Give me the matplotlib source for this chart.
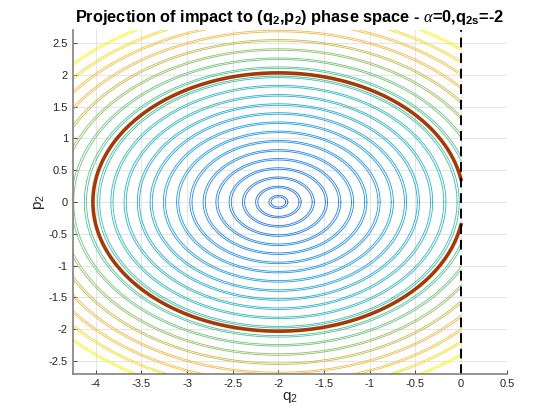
import numpy as np
import matplotlib.pyplot as plt
from matplotlib.colors import LinearSegmentedColormap

plt.rcParams['font.family'] = ['Liberation Sans', 'DejaVu Sans']
plt.rcParams['mathtext.fontset'] = 'custom'
plt.rcParams['mathtext.rm'] = 'Liberation Sans'
plt.rcParams['mathtext.it'] = 'Liberation Serif:italic'
plt.rcParams['mathtext.bf'] = 'Liberation Sans:bold'

# phase space data
q2s = -2.0
ring_radii = [0.08, 0.225, 0.37, 0.515, 0.66, 0.80, 0.945, 1.09, 1.235, 1.38, 1.52,
              1.665, 1.81, 1.955, 2.10, 2.24, 2.385, 2.53, 2.675, 2.82, 2.96, 3.11]
ring_split = [0.0, 0.024]          # each trajectory shows as a close pair of loops
impact_radius = 2.03
wall_q = 0.0

# colour along radius (parula-like)
col_r = [0.0, 0.8, 1.4, 1.8, 2.1, 2.4, 2.55, 2.68, 2.82, 2.96, 3.11]
col_c = ['#2366da', '#2088df', '#22a5d6', '#2eb6bc', '#4fc093', '#94bf62',
         '#c7bb4e', '#f0b84a', '#f7bd3d', '#f8d92e', '#f8f610']
cmap = LinearSegmentedColormap.from_list('par', list(zip(np.array(col_r) / col_r[-1], col_c)))


def loop(r):
    t = np.linspace(0, 2 * np.pi, 1500)
    q = q2s + r * np.cos(t)
    p = r * np.sin(t)
    q[q > wall_q] = np.nan
    return q, p


fig = plt.figure(figsize=(5.6, 4.2), dpi=100)
ax = fig.add_axes([0.13, 0.11, 0.775, 0.818])

for r in ring_radii:
    c = cmap(r / col_r[-1])
    for d in ring_split:
        q, p = loop(r + d)
        ax.plot(q, p, color=c, lw=0.6)

q, p = loop(impact_radius)
ax.plot(q, p, color='#a33a08', lw=2.6)
ax.axvline(wall_q, color='k', ls=(0, (5, 3)), lw=1.4)

ax.set_xlim(-4.25, 0.5)
ax.set_ylim(-2.7, 2.7)
ax.set_xticks(np.arange(-4, 0.51, 0.5))
ax.set_yticks(np.arange(-2.5, 2.51, 0.5))
ax.set_xticklabels(['-4', '-3.5', '-3', '-2.5', '-2', '-1.5', '-1', '-0.5', '0', '0.5'])
ax.set_yticklabels(['-2.5', '-2', '-1.5', '-1', '-0.5', '0', '0.5', '1', '1.5', '2', '2.5'])
ax.tick_params(direction='in', length=3, labelsize=8, colors='#262626', width=0.6)
ax.grid(True, color='#e0e0e0', lw=0.6)
ax.set_axisbelow(True)
for s in ['top', 'right']:
    ax.spines[s].set_visible(False)
for s in ['left', 'bottom']:
    ax.spines[s].set_color('#808080')
    ax.spines[s].set_linewidth(1.2)

ax.set_xlabel(r'q$_2$', fontsize=11, color='#262626', labelpad=1)
ax.set_ylabel(r'p$_2$', fontsize=11, color='#262626', labelpad=1)
ax.set_title(r'Projection of impact to (q$_\mathbf{2}$,p$_\mathbf{2}$) phase space - $\alpha$=0,q$_\mathbf{2s}$=-2',
             fontsize=11.8, fontweight='bold', pad=6)

fig.savefig('out.png', dpi=100)
